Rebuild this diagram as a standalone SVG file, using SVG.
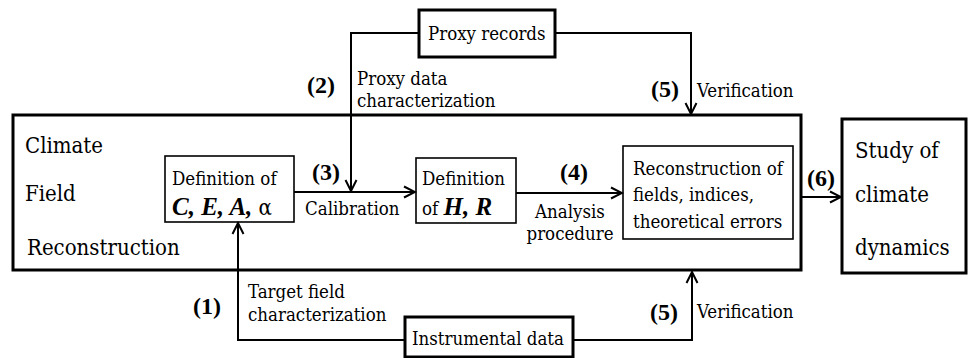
<svg xmlns="http://www.w3.org/2000/svg" width="968" height="358" viewBox="0 0 968 358">
<style>
text{font-family:"DejaVu Serif Condensed","DejaVu Serif",serif;font-stretch:condensed;fill:#000}
.s{font-size:18.5px}
.b{font-size:22px}
.n{font-size:24px;font-weight:bold;font-family:"Liberation Serif","Times New Roman",serif;font-stretch:normal}
.bi{font-weight:bold;font-style:italic;font-family:"Liberation Serif","Times New Roman",serif;font-stretch:normal}
.thick{fill:#fff;stroke:#000;stroke-width:3}
.thin{fill:#fff;stroke:#000;stroke-width:1.6}
.c{fill:none;stroke:#000;stroke-width:2}
</style>
<defs>
<marker id="ah" markerUnits="userSpaceOnUse" markerWidth="14" markerHeight="14" viewBox="0 0 14 14" refX="12" refY="7" orient="auto">
<path d="M1,1.5 L12,7 L1,12.5" fill="none" stroke="#000" stroke-width="2"/>
</marker>
</defs>
<g id="cfr">
<rect class="thick" x="13" y="115" width="788" height="155"/>
<text class="b" x="25" y="153">Climate</text>
<text class="b" x="25" y="201">Field</text>
<text class="b" x="27" y="255">Reconstruction</text>
</g>
<g id="proxy">
<rect class="thick" x="419" y="10" width="136" height="47"/>
<text class="s" x="428" y="40">Proxy records</text>
</g>
<g id="instr">
<rect class="thick" x="405" y="317" width="168" height="40"/>
<text class="s" x="412" y="345">Instrumental data</text>
</g>
<g id="study">
<rect class="thick" x="842" y="119" width="124" height="154"/>
<text class="b" x="855" y="158">Study of</text>
<text class="b" x="855" y="202">climate</text>
<text class="b" x="855" y="255">dynamics</text>
</g>
<g id="defC">
<rect class="thin" x="165" y="156" width="129" height="66"/>
<text class="s" x="172" y="185">Definition of</text>
<text x="172" y="215" style="font-size:25px"><tspan class="bi">C, E, A, </tspan><tspan style="font-size:22px">α</tspan></text>
</g>
<g id="defH">
<rect class="thin" x="416" y="158" width="100" height="65"/>
<text class="s" x="422" y="185">Definition</text>
<text x="422" y="215" class="s">of <tspan class="bi" style="font-size:25px">H, R</tspan></text>
</g>
<g id="recon">
<rect class="thin" x="623" y="146" width="170" height="93"/>
<text class="s" x="633" y="175">Reconstruction of</text>
<text class="s" x="633" y="201">fields, indices,</text>
<text class="s" x="633" y="228">theoretical errors</text>
</g>
<g id="connectors">
<path class="c" d="M419,33 H351 V191" marker-end="url(#ah)"/>
<path class="c" d="M294,192 H415" marker-end="url(#ah)"/>
<path class="c" d="M516,193 H622" marker-end="url(#ah)"/>
<path class="c" d="M801,197 H841" marker-end="url(#ah)"/>
<path class="c" d="M555,33 H691 V114" marker-end="url(#ah)"/>
<path class="c" d="M405,340 H238 V223" marker-end="url(#ah)"/>
<path class="c" d="M573,340 H692 V272" marker-end="url(#ah)"/>
</g>
<g id="labels">
<text class="n" x="307" y="93">(2)</text>
<text class="s" x="357" y="85">Proxy data</text>
<text class="s" x="357" y="107">characterization</text>
<text class="n" x="651" y="97">(5)</text>
<text class="s" x="697" y="97">Verification</text>
<text class="n" x="312" y="180">(3)</text>
<text class="s" x="305" y="215">Calibration</text>
<text class="n" x="560" y="180">(4)</text>
<text class="s" x="570" y="218" text-anchor="middle">Analysis</text>
<text class="s" x="570" y="240" text-anchor="middle">procedure</text>
<text class="n" x="807" y="186">(6)</text>
<text class="n" x="193" y="314">(1)</text>
<text class="s" x="248" y="298">Target field</text>
<text class="s" x="248" y="321">characterization</text>
<text class="n" x="650" y="320">(5)</text>
<text class="s" x="697" y="318">Verification</text>
</g>
</svg>
